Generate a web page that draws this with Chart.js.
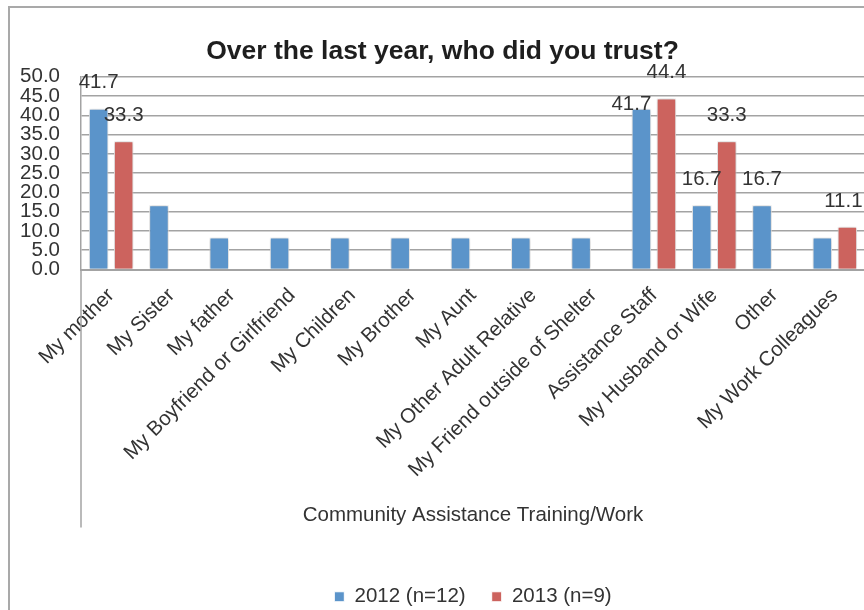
<!DOCTYPE html>
<html>
<head>
<meta charset="utf-8">
<script src="https://cdn.jsdelivr.net/npm/chart.js@4.4.1/dist/chart.umd.min.js"></script>
<style>
  html, body { margin: 0; padding: 0; width: 864px; height: 610px; overflow: hidden; background: #fff; }
  #frame { position: absolute; left: 8px; top: 6px; width: 900px; height: 700px; border: 2px solid #a9a9a9; box-sizing: border-box; }
  #wrap { position: absolute; left: 0; top: 0; width: 885px; height: 610px; }
</style>
</head>
<body>
<div id="frame"></div>
<div id="wrap"><canvas id="c"></canvas></div>
<script>
// Who respondents trusted over the last year, by survey year (percent)
const categories = [
  'My mother', 'My Sister', 'My father', 'My Boyfriend or Girlfriend', 'My Children',
  'My Brother', 'My Aunt', 'My Other Adult Relative', 'My Friend outside of Shelter',
  'Assistance Staff', 'My Husband or Wife', 'Other', 'My Work Colleagues'
];
const values2012 = [41.7, 16.7, 8.3, 8.3, 8.3, 8.3, 8.3, 8.3, 8.3, 41.7, 16.7, 16.7, 8.3];
const values2013 = [33.3, null, null, null, null, null, null, null, null, 44.4, 33.3, null, 11.1];
// which bars carry a value label
const labeled2012 = [0, 9, 10, 11];
const labeled2013 = [0, 9, 10, 12];
const yTicks = [0, 5, 10, 15, 20, 25, 30, 35, 40, 45, 50];

const FONT = '"Liberation Sans", Arial, Helvetica, sans-serif';
const TEXT = '#333333';
const GRID = '#a3a3a3';

// soft drop shadow under the bars
const barShadow = {
  id: 'barShadow',
  beforeDatasetsDraw(chart) {
    const ctx = chart.ctx;
    ctx.save();
    ctx.shadowColor = 'rgba(0,0,0,0.28)';
    ctx.shadowBlur = 4;
    ctx.shadowOffsetX = 0;
    ctx.shadowOffsetY = 0;
  },
  afterDatasetsDraw(chart) { chart.ctx.restore(); }
};

// value labels above selected bars
const valueLabels = {
  id: 'valueLabels',
  afterDatasetsDraw(chart, args, opts) {
    const ctx = chart.ctx;
    ctx.save();
    ctx.font = opts.font;
    ctx.fillStyle = opts.color;
    ctx.textAlign = 'center';
    ctx.textBaseline = 'middle';
    chart.data.datasets.forEach((ds, di) => {
      const meta = chart.getDatasetMeta(di);
      (ds.labeledIndexes || []).forEach(i => {
        const bar = meta.data[i];
        const v = ds.data[i];
        if (v == null) return;
        const off = (opts.offsets[di] && opts.offsets[di][i]) || [0, opts.lift];
        ctx.fillText(v.toFixed(1), bar.x + off[0], bar.y + off[1]);
      });
    });
    ctx.restore();
  }
};

// the value axis line continues down through the category label band
const axisExtension = {
  id: 'axisExtension',
  afterDraw(chart, args, opts) {
    const ctx = chart.ctx;
    const a = chart.chartArea;
    ctx.save();
    ctx.strokeStyle = GRID;
    ctx.lineWidth = 1.5;
    ctx.beginPath();
    ctx.moveTo(a.left, a.bottom);
    ctx.lineTo(a.left, a.bottom + opts.length);
    ctx.stroke();
    ctx.restore();
  }
};

new Chart(document.getElementById('c'), {
  type: 'bar',
  data: {
    labels: categories,
    datasets: [
      {
        label: '2012 (n=12)', data: values2012, labeledIndexes: labeled2012,
        backgroundColor: '#5b94ca', borderColor: '#ffffff', borderWidth: 1,
        categoryPercentage: 0.83, barPercentage: 0.78
      },
      {
        label: '2013 (n=9)', data: values2013, labeledIndexes: labeled2013,
        backgroundColor: '#cc635e', borderColor: '#ffffff', borderWidth: 1,
        categoryPercentage: 0.83, barPercentage: 0.78
      }
    ]
  },
  options: {
    responsive: true,
    maintainAspectRatio: false,
    animation: false,
    layout: { padding: { left: 0, right: 0, top: 0, bottom: -7 } },
    plugins: {
      title: {
        display: true,
        text: 'Over the last year, who did you trust?',
        color: '#1e1e1e',
        font: { family: FONT, size: 26.5, weight: 'bold', lineHeight: 1.2 },
        padding: { top: 36, bottom: 9 }
      },
      legend: {
        position: 'bottom',
        fullSize: false,
        labels: {
          color: TEXT,
          font: { family: FONT, size: 20.5 },
          boxWidth: 10, boxHeight: 10, padding: 26
        }
      },
      tooltip: { enabled: false },
      valueLabels: {
        font: '20.5px ' + FONT,
        color: TEXT,
        lift: -26,
        offsets: { 0: { 9: [-10, -4] }, 1: { 12: [-4, -25] } }
      },
      axisExtension: { length: 258 }
    },
    scales: {
      x: {
        grid: { display: false },
        border: { display: true, color: GRID, width: 2 },
        ticks: {
          color: TEXT,
          font: { family: FONT, size: 20.5 },
          maxRotation: 45, minRotation: 45, autoSkip: false, padding: 6
        },
        title: {
          display: true,
          text: 'Community Assistance Training/Work',
          color: TEXT,
          font: { family: FONT, size: 20.5 },
          padding: { top: 0, bottom: 33 }
        },
        afterFit(scale) { scale.height = 291; }
      },
      y: {
        min: 0, max: 50,
        afterBuildTicks(scale) { scale.ticks = yTicks.map(v => ({ value: v })); },
        grid: { color: GRID, lineWidth: 1.5, drawTicks: false },
        border: { display: true, color: GRID, width: 1.5 },
        ticks: {
          color: TEXT,
          font: { family: FONT, size: 20.5, lineHeight: 1 },
          padding: 21,
          autoSkip: false,
          callback: v => Number(v).toFixed(1)
        },
        afterFit(scale) { scale.width = 81; }
      },
      // empty spacer on the right so the plot stops where the frame is cut
      yRight: {
        type: 'linear',
        position: 'right',
        display: true,
        grid: { display: false, drawTicks: false },
        border: { display: false },
        ticks: { display: false },
        afterFit(scale) { scale.width = 20; }
      }
    }
  },
  plugins: [barShadow, valueLabels, axisExtension]
});
</script>
</body>
</html>
